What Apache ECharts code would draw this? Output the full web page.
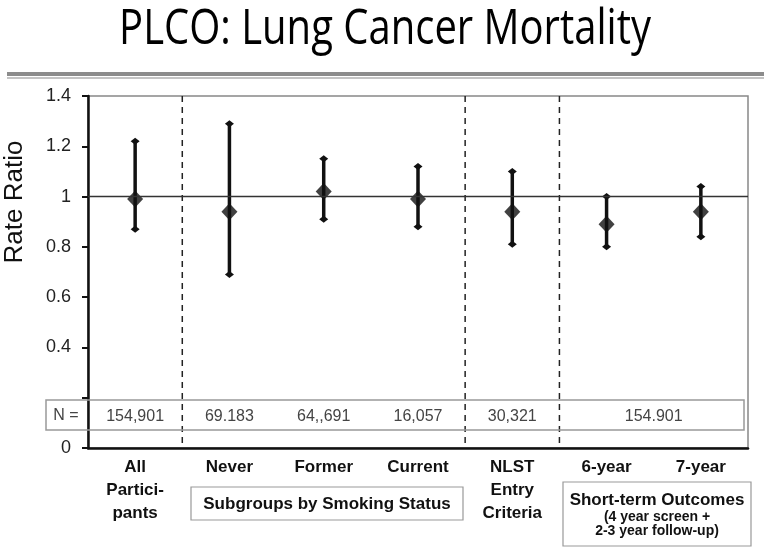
<!DOCTYPE html>
<html><head><meta charset="utf-8">
<script src="https://cdn.jsdelivr.net/npm/echarts@6/dist/echarts.min.js"></script>
<style>html,body{margin:0;padding:0;background:#fff}#c{width:764px;height:549px}</style>
</head><body><div id="c"></div>
<script>
const categories = ['All\nPartici-\npants', 'Never', 'Former', 'Current', 'NLST\nEntry\nCriteria', '6-year', '7-year'];
const rateRatio = [0.99, 0.94, 1.02, 0.99, 0.94, 0.89, 0.94];
const lowerCI = [0.87, 0.69, 0.91, 0.88, 0.81, 0.80, 0.84];
const upperCI = [1.22, 1.29, 1.15, 1.12, 1.10, 1.00, 1.04];
const nLabels = ['154,901', '69.183', '64,,691', '16,057', '30,321', '154.901'];
const nLabelCategory = [0, 1, 2, 3, 4, 5.5];
const dividerBoundaries = [1, 4, 5];
const yMin = 0, yMax = 1.4, yStep = 0.2;
const hiddenYLabels = [0.2];
const nLabelValue = 0.123;

const FONT = '"Liberation Sans", Arial, sans-serif';
const chart = echarts.init(document.getElementById('c'));

function diamond(cx, cy, w, h) {
  return [[cx, cy - h], [cx + w, cy], [cx, cy + h], [cx - w, cy]];
}

const option = {
  animation: false,
  grid: { left: 88, right: 16, top: 96, bottom: 101, show: true, borderColor: '#888', borderWidth: 1.5, outerBoundsMode: 'none', containLabel: false },
  xAxis: [{
    type: 'category', data: categories, boundaryGap: true,
    axisLine: { lineStyle: { color: '#111', width: 2.5 } },
    axisTick: { length: 5, lineStyle: { color: '#111', width: 2.5 } },
    axisLabel: { fontFamily: FONT, fontWeight: 'bold', fontSize: 17, color: '#111', lineHeight: 23, margin: 8, interval: 0 }
  }, {
    type: 'value', min: 0, max: categories.length, show: false
  }],
  yAxis: {
    type: 'value', min: yMin, max: yMax, interval: yStep,
    axisLine: { show: true, lineStyle: { color: '#111', width: 2.5 } },
    axisTick: { show: true, length: 6, lineStyle: { color: '#111', width: 2 } },
    splitLine: { show: false },
    axisLabel: {
      fontFamily: FONT, fontSize: 18, color: '#222', margin: 17,
      formatter: v => hiddenYLabels.some(h => Math.abs(h - v) < 1e-6) ? '' : String(+v.toFixed(1))
    }
  },
  series: [
    {
      type: 'custom', xAxisIndex: 1, silent: true, z: 1,
      data: dividerBoundaries.map(b => [b]),
      renderItem: (params, api) => {
        const p1 = api.coord([api.value(0), yMax]);
        const p2 = api.coord([api.value(0), yMin]);
        return { type: 'line', shape: { x1: p1[0], y1: p1[1], x2: p2[0], y2: p2[1] },
          style: { stroke: '#222', lineWidth: 1.5, lineDash: [6, 5] } };
      }
    },
    {
      type: 'line', data: [], xAxisIndex: 0,
      markLine: { silent: true, symbol: 'none', label: { show: false },
        lineStyle: { color: '#333', width: 1.3, type: 'solid' },
        data: [{ yAxis: 1 }] }
    },
    {
      type: 'custom', xAxisIndex: 0, z: 3,
      data: categories.map((c, i) => [i, lowerCI[i], upperCI[i]]),
      renderItem: (params, api) => {
        const lo = api.coord([api.value(0), api.value(1)]);
        const hi = api.coord([api.value(0), api.value(2)]);
        return { type: 'group', children: [
          { type: 'line', shape: { x1: lo[0], y1: lo[1], x2: hi[0], y2: hi[1] }, style: { stroke: '#111', lineWidth: 3.5 } },
          { type: 'polygon', shape: { points: diamond(lo[0], lo[1], 4.5, 3.5) }, style: { fill: '#111' } },
          { type: 'polygon', shape: { points: diamond(hi[0], hi[1], 4.5, 3.5) }, style: { fill: '#111' } }
        ] };
      }
    },
    {
      type: 'scatter', xAxisIndex: 0, z: 4, symbol: 'diamond', symbolSize: [16, 17],
      itemStyle: { color: '#111' },
      data: rateRatio.map((v, i) => [i, v])
    },
    {
      type: 'custom', xAxisIndex: 1, z: 5, silent: true,
      data: nLabels.map((t, i) => [nLabelCategory[i] + 0.5, nLabelValue]),
      renderItem: (params, api) => {
        const p = api.coord([api.value(0), api.value(1)]);
        return { type: 'text', x: p[0], y: p[1],
          style: { text: nLabels[params.dataIndex], fontFamily: FONT, fontSize: 16, fill: '#444', align: 'center', verticalAlign: 'middle' } };
      }
    }
  ],
  graphic: [
    { type: 'text', x: 385, y: 30, scaleX: 0.8, originX: 0, style: { text: 'PLCO: Lung Cancer Mortality', fontFamily: '"Open Sans", sans-serif', fontSize: 50, fill: '#000', align: 'center', verticalAlign: 'middle' } },
    { type: 'text', x: 15, y: 202, rotation: Math.PI / 2, style: { text: 'Rate Ratio', fontFamily: FONT, fontSize: 26, fill: '#111', align: 'center', verticalAlign: 'middle' } },
    { type: 'rect', shape: { x: 7, y: 72, width: 757, height: 4 }, style: { fill: '#8c8c8c' } },
    { type: 'rect', shape: { x: 7, y: 77, width: 757, height: 2 }, style: { fill: '#c4c4c4' } },
    { type: 'rect', z: 10, shape: { x: 46, y: 400, width: 698, height: 30 }, style: { fill: 'none', stroke: '#999', lineWidth: 1.5 } },
    { type: 'text', z: 10, x: 66, y: 416, style: { text: 'N =', fontFamily: FONT, fontSize: 16, fill: '#444', align: 'center', verticalAlign: 'middle' } },
    { type: 'rect', z: 10, shape: { x: 191, y: 487, width: 272, height: 33 }, style: { fill: '#fff', stroke: '#999', lineWidth: 1.2 } },
    { type: 'text', z: 11, x: 327, y: 504, style: { text: 'Subgroups by Smoking Status', fontFamily: FONT, fontWeight: 'bold', fontSize: 17, fill: '#111', align: 'center', verticalAlign: 'middle' } },
    { type: 'rect', z: 10, shape: { x: 563, y: 482, width: 188, height: 64 }, style: { fill: '#fff', stroke: '#999', lineWidth: 1.2 } },
    { type: 'text', z: 11, x: 657, y: 500, style: { text: 'Short-term Outcomes', fontFamily: FONT, fontWeight: 'bold', fontSize: 17, fill: '#111', align: 'center', verticalAlign: 'middle' } },
    { type: 'text', z: 11, x: 657, y: 517, style: { text: '(4 year screen +', fontFamily: FONT, fontWeight: 'bold', fontSize: 14, fill: '#111', align: 'center', verticalAlign: 'middle' } },
    { type: 'text', z: 11, x: 657, y: 531, style: { text: '2-3 year follow-up)', fontFamily: FONT, fontWeight: 'bold', fontSize: 14, fill: '#111', align: 'center', verticalAlign: 'middle' } }
  ]
};
chart.setOption(option);
</script>
</body></html>
